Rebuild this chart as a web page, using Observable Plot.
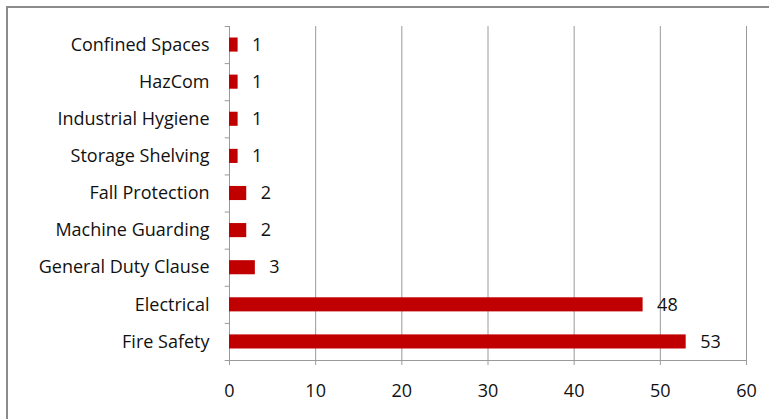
<!DOCTYPE html>
<html><head><meta charset="utf-8">
<script src="https://cdn.jsdelivr.net/npm/d3@7"></script>
<script src="https://cdn.jsdelivr.net/npm/@observablehq/plot@0.6"></script>
<style>
html,body{margin:0;padding:0;background:#fff;overflow:hidden;}
#wrap{position:relative;width:769px;height:419px;overflow:hidden;}
#frame{position:absolute;left:6px;top:6px;width:800px;height:450px;border:2px solid #8c8c8c;box-sizing:border-box;}
#chart{position:absolute;left:0;top:0;}
</style></head>
<body><div id="wrap"><div id="frame"></div><div id="chart"></div></div>
<script>
const categories = ["Confined Spaces","HazCom","Industrial Hygiene","Storage Shelving","Fall Protection","Machine Guarding","General Duty Clause","Electrical","Fire Safety"];
const values = [1,1,1,1,2,2,3,48,53];
const xTicks = [0,10,20,30,40,50,60];

const data = categories.map((c,i)=>({category:c, value:values[i]}));
const H = 419, mt = 26, mb = 59;
const band = (H - mt - mb) / categories.length;

const chart = Plot.plot({
  width: 769, height: H,
  marginLeft: 229, marginRight: 23, marginTop: mt, marginBottom: mb,
  style: {fontFamily: "'Open Sans', sans-serif", fontSize: "18px", color: "#111", background: "transparent"},
  x: {domain: [0,60], ticks: xTicks, label: null},
  y: {domain: categories, label: null, paddingInner: 0.62, paddingOuter: 0.31, round: false},
  marks: [
    Plot.gridX(xTicks.slice(1), {stroke: "#9a9a9a", strokeOpacity: 1}),
    Plot.ruleX([0], {stroke: "#9a9a9a"}),
    Plot.ruleY([categories[categories.length-1]], {x1: 0, x2: 60, dy: band/2, stroke: "#9a9a9a"}),
    Plot.ruleY(categories, {x1: -0.5, x2: 0, dy: -band/2, stroke: "#9a9a9a"}),
    Plot.ruleY([categories[categories.length-1]], {x1: -0.5, x2: 0, dy: band/2, stroke: "#9a9a9a"}),
    Plot.barX(data, {y: "category", x: "value", fill: "#C00000"}),
    Plot.text(data, {y: "category", x: "value", text: d => String(d.value), textAnchor: "start", dx: 14, fontSize: 18, fill: "#111"}),
    Plot.axisX(xTicks, {tickSize: 5, tickPadding: 19, stroke: "#9a9a9a", fontSize: 18, fill: "#111", label: null}),
    Plot.axisY({tickSize: 0, tickPadding: 20, fontSize: 18, fill: "#111", label: null})
  ]
});
document.getElementById("chart").appendChild(chart);
</script></body></html>
